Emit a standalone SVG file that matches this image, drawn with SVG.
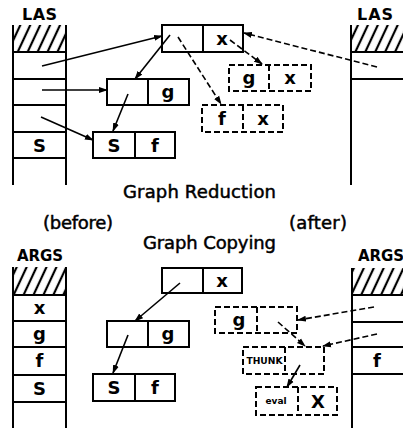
<svg xmlns="http://www.w3.org/2000/svg" width="403" height="428" viewBox="0 0 403 428">
<defs>
<style>
.ln{stroke:#000;stroke-width:2;fill:none}
.bx{stroke:#000;stroke-width:2;fill:#fff}
.db{stroke:#000;stroke-width:2;fill:#fff;stroke-dasharray:6 3}
.ar{stroke:#000;stroke-width:1.6;fill:none}
.da{stroke:#000;stroke-width:1.6;fill:none;stroke-dasharray:6 3}
.t{font-family:"DejaVu Sans",sans-serif;font-weight:bold;font-size:18px;text-anchor:middle;fill:#000}
.h{font-family:"DejaVu Sans",sans-serif;font-size:18px;text-anchor:middle;fill:#000;stroke:#000;stroke-width:0.5}
.lb{font-family:"DejaVu Sans",sans-serif;font-weight:bold;font-size:16px;fill:#000}
.ag{font-family:"DejaVu Sans",sans-serif;font-weight:bold;font-size:15px;fill:#000}
</style>
<pattern id="hatch" width="9" height="10" patternUnits="userSpaceOnUse" patternTransform="rotate(25)">
<line x1="2" y1="0" x2="2" y2="10" stroke="#000" stroke-width="2.2"/>
</pattern>
<marker id="a" markerWidth="9" markerHeight="7" refX="8" refY="3.5" orient="auto" markerUnits="userSpaceOnUse">
<path d="M0,0.5 L9,3.5 L0,6.5 z" fill="#000"/>
</marker>
</defs>

<!-- Top-left LAS stack -->
<g id="las-left">
<text class="lb" x="22" y="20" textLength="35">LAS</text>
<rect x="13" y="25" width="53" height="27" fill="url(#hatch)"/>
<line class="ln" x1="13" y1="25" x2="13" y2="185"/>
<line class="ln" x1="66" y1="25" x2="66" y2="185"/>
<line class="ln" x1="13" y1="52" x2="66" y2="52"/>
<line class="ln" x1="13" y1="79" x2="66" y2="79"/>
<line class="ln" x1="13" y1="105" x2="66" y2="105"/>
<line class="ln" x1="13" y1="132" x2="66" y2="132"/>
<line class="ln" x1="13" y1="158" x2="66" y2="158"/>
<text class="t" x="39.5" y="151.5">S</text>
</g>

<!-- Top-right LAS stack -->
<g id="las-right">
<text class="lb" x="357" y="20" textLength="36">LAS</text>
<rect x="351" y="25" width="52" height="27" fill="url(#hatch)"/>
<line class="ln" x1="351" y1="25" x2="351" y2="185"/>
<line class="ln" x1="351" y1="52" x2="403" y2="52"/>
<line class="ln" x1="351" y1="79" x2="403" y2="79"/>
</g>

<!-- Top graph nodes -->
<g id="top-app">
<rect class="bx" x="162" y="25" width="81" height="27"/>
<line class="ln" x1="203" y1="25" x2="203" y2="52"/>
<text class="t" x="222" y="45">x</text>
</g>
<g id="top-g">
<rect class="bx" x="107" y="79" width="82" height="26"/>
<line class="ln" x1="148" y1="79" x2="148" y2="105"/>
<text class="t" x="168" y="98">g</text>
</g>
<g id="top-sf">
<rect class="bx" x="93" y="132" width="82" height="26"/>
<line class="ln" x1="135" y1="132" x2="135" y2="158"/>
<text class="t" x="114" y="151.5">S</text>
<text class="t" x="155" y="151.5">f</text>
</g>
<g id="top-gx">
<rect class="db" x="229" y="65" width="82" height="26"/>
<line class="db" x1="269" y1="65" x2="269" y2="91"/>
<text class="t" x="249" y="84">g</text>
<text class="t" x="290" y="84">x</text>
</g>
<g id="top-fx">
<rect class="db" x="202" y="105" width="81" height="27"/>
<line class="db" x1="243" y1="105" x2="243" y2="132"/>
<text class="t" x="222" y="124.5">f</text>
<text class="t" x="263" y="124.5">x</text>
</g>

<!-- Titles -->
<g id="titles">
<text class="h" x="199.5" y="198" textLength="153">Graph Reduction</text>
<text class="h" x="78" y="229" textLength="70">(before)</text>
<text class="h" x="318" y="229" textLength="58">(after)</text>
<text class="h" x="209.5" y="249" textLength="133">Graph Copying</text>
</g>

<!-- Bottom-left ARGS stack -->
<g id="args-left">
<text class="ag" x="17" y="261" textLength="46">ARGS</text>
<rect x="13" y="267" width="53" height="28" fill="url(#hatch)"/>
<line class="ln" x1="13" y1="267" x2="13" y2="428"/>
<line class="ln" x1="66" y1="267" x2="66" y2="428"/>
<line class="ln" x1="13" y1="295" x2="66" y2="295"/>
<line class="ln" x1="13" y1="321" x2="66" y2="321"/>
<line class="ln" x1="13" y1="347" x2="66" y2="347"/>
<line class="ln" x1="13" y1="375" x2="66" y2="375"/>
<line class="ln" x1="13" y1="402" x2="66" y2="402"/>
<text class="t" x="39.5" y="314">x</text>
<text class="t" x="39.5" y="340">g</text>
<text class="t" x="39.5" y="367">f</text>
<text class="t" x="39.5" y="395">S</text>
</g>

<!-- Bottom-right ARGS stack -->
<g id="args-right">
<text class="ag" x="358" y="261" textLength="46">ARGS</text>
<rect x="352" y="268" width="51" height="27" fill="url(#hatch)"/>
<line class="ln" x1="352" y1="268" x2="352" y2="428"/>
<line class="ln" x1="352" y1="295" x2="403" y2="295"/>
<line class="ln" x1="352" y1="322" x2="403" y2="322"/>
<line class="ln" x1="352" y1="347" x2="403" y2="347"/>
<line class="ln" x1="352" y1="374" x2="403" y2="374"/>
<text class="t" x="377" y="367">f</text>
</g>

<!-- Bottom graph nodes -->
<g id="bot-app">
<rect class="bx" x="162" y="268" width="80" height="25"/>
<line class="ln" x1="203" y1="268" x2="203" y2="293"/>
<text class="t" x="222" y="286.5">x</text>
</g>
<g id="bot-g">
<rect class="bx" x="107" y="321" width="82" height="26"/>
<line class="ln" x1="148" y1="321" x2="148" y2="347"/>
<text class="t" x="168" y="340">g</text>
</g>
<g id="bot-sf">
<rect class="bx" x="93" y="374" width="82" height="27"/>
<line class="ln" x1="135" y1="374" x2="135" y2="401"/>
<text class="t" x="114" y="394">S</text>
<text class="t" x="155" y="394">f</text>
</g>
<g id="bot-g-copy">
<rect class="db" x="215" y="307" width="82" height="26"/>
<line class="db" x1="257" y1="307" x2="257" y2="333"/>
<text class="t" x="239" y="326">g</text>
</g>
<g id="bot-thunk">
<rect class="db" x="243" y="347" width="81" height="27"/>
<line class="db" x1="285" y1="347" x2="285" y2="374"/>
<text x="264.5" y="364" font-family="DejaVu Sans,sans-serif" font-weight="bold" font-size="8" text-anchor="middle" textLength="36" lengthAdjust="spacingAndGlyphs">THUNK</text>
</g>
<g id="bot-eval">
<rect class="db" x="256" y="387" width="81" height="28"/>
<line class="db" x1="298" y1="387" x2="298" y2="415"/>
<text x="276" y="404" font-family="DejaVu Sans,sans-serif" font-weight="bold" font-size="9" text-anchor="middle">eval</text>
<text class="t" x="318" y="407.5">X</text>
</g>

<!-- Connectors -->
<g id="connectors">
<line class="ar" x1="42" y1="66" x2="162" y2="36" marker-end="url(#a)"/>
<line class="ar" x1="42" y1="90" x2="107" y2="90" marker-end="url(#a)"/>
<line class="ar" x1="41" y1="117" x2="93" y2="140" marker-end="url(#a)"/>
<line class="ar" x1="170" y1="35" x2="135" y2="79" marker-end="url(#a)"/>
<line class="ar" x1="128" y1="94" x2="113" y2="131" marker-end="url(#a)"/>
<line class="da" x1="178" y1="37" x2="221" y2="104" marker-end="url(#a)"/>
<line class="da" x1="230" y1="40" x2="262" y2="64" marker-end="url(#a)"/>
<line class="da" x1="377" y1="67" x2="244" y2="33" marker-end="url(#a)"/>
<line class="ar" x1="180" y1="283" x2="135" y2="321" marker-end="url(#a)"/>
<line class="ar" x1="128" y1="335" x2="113" y2="373" marker-end="url(#a)"/>
<line class="da" x1="374" y1="307" x2="298" y2="320" marker-end="url(#a)"/>
<line class="da" x1="377" y1="334" x2="323" y2="346" marker-end="url(#a)"/>
<line class="da" x1="278" y1="322" x2="305" y2="346" marker-end="url(#a)"/>
<line class="ar" x1="300" y1="365" x2="287" y2="387" marker-end="url(#a)"/>
</g>
</svg>
